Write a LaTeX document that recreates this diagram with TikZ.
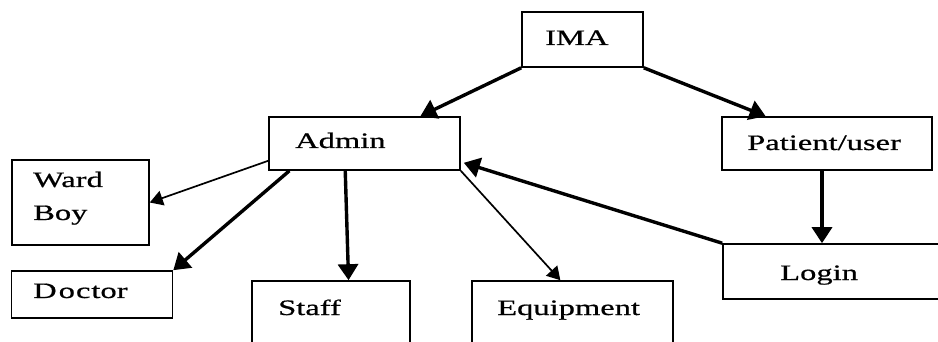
\documentclass[tikz,border=0pt]{standalone}
\usepackage{fontspec}
\setmainfont[FakeStretch=1.48,FakeBold=0.7]{Liberation Serif}
\usetikzlibrary{arrows.meta,calc}

\tikzset{
  box/.style={draw, line width=1.6pt, inner sep=0pt, fill=white},
  lbl/.style={anchor=base west, inner sep=0pt, font=\fontsize{22}{26}\selectfont},
  heavy/.style={line width=3.4pt, -{Triangle[length=16pt,width=20pt]}},
  light/.style={line width=1.7pt, -{Triangle[length=13pt,width=15pt]}},
}

\begin{document}
\begin{tikzpicture}[x=1pt,y=-1pt]
  \useasboundingbox (0,0) rectangle (938,342);

  % boxes (corners in picture units, y grows downwards)
  \node[box, minimum width=121pt, minimum height=55pt] (ima)     at (582.5,39.5) {};
  \node[box, minimum width=191pt, minimum height=53pt] (admin)   at (364.5,143.5) {};
  \node[box, minimum width=210pt, minimum height=53pt] (patient) at (827,143.5) {};
  \node[box, minimum width=137pt, minimum height=85pt] (ward)    at (80.5,202.5) {};
  \node[box, minimum width=161pt, minimum height=47pt] (doctor)  at (92,294.5) {};
  \node[box, minimum width=158pt, minimum height=65pt] (staff)   at (331,313.5) {};
  \node[box, minimum width=201pt, minimum height=65pt] (equip)   at (572.5,313.5) {};
  \node[box, minimum width=222pt, minimum height=55pt] (login)   at (834,271.5) {};

  % labels
  \node[lbl] (tima)     at (545,45)  {IMA};
  \node[lbl] (tadmin)   at (295,148) {Admin};
  \node[lbl] (tpatient) at (747,150) {Patient/user};
  \node[lbl] (tward)    at (33,187)  {Ward};
  \node[lbl] (tboy)     at (33,220)  {Boy};
  \node[lbl] (tdoctor)  at (33,298)  {D\kern2pt o\kern1pt c\kern1pt tor};
  \node[lbl] (tstaff)   at (278,315) {Staff};
  \node[lbl] (tequip)   at (497,315) {Equipment};
  \node[lbl] (tlogin)   at (780,280) {Login};

  % connectors
  \draw[heavy] (ima.south west) -- ($(admin.north west)!0.79!(admin.north east)$);
  \draw[heavy] (ima.south east) -- ($(patient.north west)!0.21!(patient.north east)$);
  \draw[light] ($(admin.south west)+(0,-10)$) -- (ward.east);
  \draw[heavy] ($(admin.south west)!0.11!(admin.south east)$) -- (doctor.north east);
  \draw[heavy] ($(admin.south west)!0.40!(admin.south east)$) -- ($(staff.north west)!0.61!(staff.north east)$);
  \draw[light] (admin.south east) -- ($(equip.north west)!0.44!(equip.north east)$);
  \draw[heavy] (login.north west) -- ($(admin.south east)+(3,-8)$);
  \draw[heavy] ($(patient.south)+(-5,0)$) coordinate (pdown) -- (pdown |- login.north);
\end{tikzpicture}
\end{document}
